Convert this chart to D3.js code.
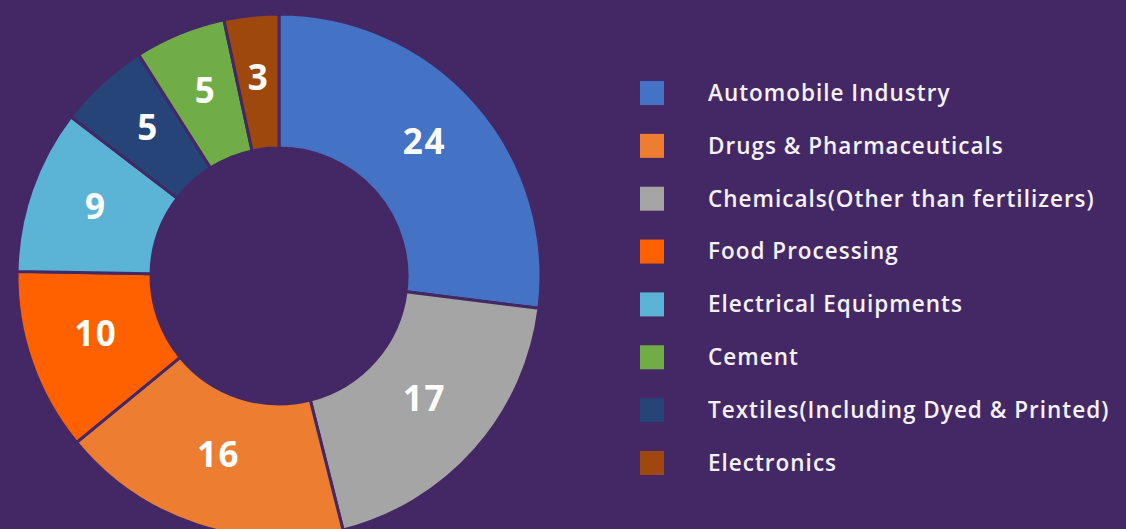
<!DOCTYPE html>
<head>
	<meta charset="utf-8" />
	<style>
		body {
			margin: 0;
			background-color: #432865;
			overflow: hidden;
		}
		svg {
			display: block;
		}
		.label {
			fill: #fff;
			font-family: 'Open Sans', sans-serif;
			font-weight: 700;
			font-size: 35px;
			letter-spacing: 1.5px;
		}
		.legend text {
			fill: #f4f2f7;
			font-family: 'Open Sans', sans-serif;
			font-weight: 600;
			font-size: 22.5px;
			letter-spacing: 1px;
		}
	</style>
</head>
<body>
	<div id="chart-area"></div>

	<script src="https://cdnjs.cloudflare.com/ajax/libs/d3/7.8.5/d3.min.js"></script>

	<script>
		// slices, clockwise from 12 o'clock
		const sectors = [
			'Automobile Industry',
			'Chemicals(Other than fertilizers)',
			'Drugs & Pharmaceuticals',
			'Food Processing',
			'Electrical Equipments',
			'Textiles(Including Dyed & Printed)',
			'Cement',
			'Electronics',
		];
		const values = [24, 17, 16, 10, 9, 5, 5, 3];

		// legend order as in the picture
		const legendOrder = [
			'Automobile Industry',
			'Drugs & Pharmaceuticals',
			'Chemicals(Other than fertilizers)',
			'Food Processing',
			'Electrical Equipments',
			'Cement',
			'Textiles(Including Dyed & Printed)',
			'Electronics',
		];

		const colors = {
			'Automobile Industry': '#4472c4',
			'Drugs & Pharmaceuticals': '#ed7d31',
			'Chemicals(Other than fertilizers)': '#a5a5a5',
			'Food Processing': '#ff6000',
			'Electrical Equipments': '#5bb3d6',
			'Cement': '#70ad47',
			'Textiles(Including Dyed & Printed)': '#264478',
			'Electronics': '#9e480e',
		};

		const width = 1126,
			height = 529,
			bg = '#432865';

		const cx = 279,
			cy = 276,
			outerR = 262,
			innerR = 128;

		const data = sectors.map((s, i) => ({ name: s, value: values[i] }));

		const svg = d3
			.select('#chart-area')
			.append('svg')
			.attr('width', width)
			.attr('height', height);

		const pie = d3
			.pie()
			.sort(null)
			.value(d => d.value);

		const arc = d3.arc().innerRadius(innerR).outerRadius(outerR);
		const labelArc = d3.arc().innerRadius(194).outerRadius(194);

		const g = svg.append('g').attr('transform', `translate(${cx},${cy})`);

		const arcs = pie(data);

		g.selectAll('path')
			.data(arcs)
			.join('path')
			.attr('d', arc)
			.attr('fill', d => colors[d.data.name])
			.attr('stroke', bg)
			.attr('stroke-width', 3)
			.attr('stroke-linejoin', 'miter');

		// labels sit a little above the true centroid in the original
		g.selectAll('.label')
			.data(arcs)
			.join('text')
			.attr('class', 'label')
			.attr('transform', d => {
				const [x, y] = labelArc.centroid(d);
				return `translate(${x},${y - 6})`;
			})
			.attr('text-anchor', 'middle')
			.attr('dy', '0.36em')
			.text(d => d.data.value);

		// legend
		const y = d3
			.scalePoint()
			.domain(legendOrder)
			.range([93, 463]);

		const legend = svg
			.append('g')
			.attr('class', 'legend')
			.selectAll('g')
			.data(legendOrder)
			.join('g')
			.attr('transform', d => `translate(640,${y(d)})`);

		legend
			.append('rect')
			.attr('x', 0)
			.attr('y', -12)
			.attr('width', 24)
			.attr('height', 24)
			.attr('fill', d => colors[d]);

		legend
			.append('text')
			.attr('x', 68)
			.attr('dy', '0.35em')
			.text(d => d);
	</script>
</body>
